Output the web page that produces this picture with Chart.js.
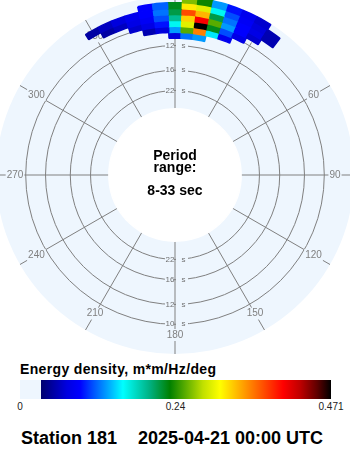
<!DOCTYPE html>
<html>
<head>
<meta charset="utf-8">
<script src="https://cdn.jsdelivr.net/npm/chart.js@4.4.1/dist/chart.umd.min.js"></script>
<style>
  body { margin: 0; width: 350px; height: 450px; overflow: hidden; background: #fff; position: relative;
         font-family: "Liberation Sans", Arial, sans-serif; color: #000; }
  #polar { position: absolute; left: -4px; top: -4px; }
  .center { position: absolute; left: 0; width: 350px; text-align: center; font-weight: bold; font-size: 14px; line-height: 14px; }
  #cbTitle { position: absolute; left: 20px; top: 362px; font-weight: bold; font-size: 14px; line-height: 14px; letter-spacing: 0.35px; }
  #cbar { position: absolute; left: 20px; top: 380px; width: 311px; height: 19px; }
  .cbTick { position: absolute; top: 402px; font-size: 10px; line-height: 10px; transform: translateX(-50%); color: #222; }
  .footer { position: absolute; top: 429px; font-weight: bold; font-size: 18px; line-height: 18px; }
</style>
</head>
<body>
<canvas id="polar" width="358" height="358"></canvas>
<div class="center" style="top:148px">Period</div>
<div class="center" style="top:160px">range:</div>
<div class="center" id="rangeText" style="top:183px"></div>
<div id="cbTitle">Energy density, m*m/Hz/deg</div>
<div id="cbar"></div>
<div id="cbTicks"></div>
<div class="footer" style="left:21px">Station 181</div>
<div class="footer" style="left:138px">2025-04-21 00:00 UTC</div>
<script>
// direction bins (deg clockwise from north, 5 deg wide) that hold energy
const directions = [-35, -30, -25, -20, -15, -10, -5, 0, 5, 10, 15, 20, 25, 30, 35];
// frequency band edges in Hz, outermost band first
const bandEdges = [0.125, 0.12, 0.115, 0.11, 0.105, 0.1, 0.095, 0.09];
// energy density (m*m/Hz/deg) per band, one value per direction bin
const band1 = [0, 0, 0, 0, 0, 0, 0, 0, 0.26, 0.23, 0.13, 0.095, 0.08, 0.065, 0];
const band2 = [0, 0, 0, 0, 0, 0.09, 0.115, 0.22, 0.31, 0.29, 0.16, 0.11, 0.085, 0.07, 0.055];
const band3 = [0, 0.05, 0.06, 0.07, 0.08, 0.09, 0.12, 0.21, 0.37, 0.33, 0.21, 0.12, 0.09, 0.075, 0.055];
const band4 = [0, 0, 0.05, 0.06, 0.075, 0.085, 0.11, 0.19, 0.32, 0.40, 0.25, 0.13, 0.09, 0.065, 0];
const band5 = [0, 0, 0, 0, 0.065, 0.075, 0.095, 0.16, 0.29, 0.471, 0.22, 0.11, 0.075, 0, 0];
const band6 = [0, 0, 0, 0, 0, 0.055, 0.07, 0.13, 0.25, 0.35, 0.15, 0.08, 0, 0, 0];
const band7 = [0, 0, 0, 0, 0, 0, 0, 0.07, 0.12, 0.13, 0, 0, 0, 0, 0];

const periodRange = [8, 33];            // sec
const periodTicks = [10, 12, 16, 22];   // ring labels, sec
const directionTicks = ['0', '30', '60', '90', '120', '150', '180', '210', '240', '270', '300', '330'];
const colorbarTicks = ['0', '0.24', '0.471'];
const maxEnergy = 0.471;

// frequency at the plot centre, leaves room for the white inner disk
const fMin = -0.0256;
const fMax = 1 / periodRange[0];
const fInner = 1 / periodRange[1];

const lightBlue = '#eef6fe';
const clear = 'rgba(0,0,0,0)';
const cmapStops = [
  [0.0675, [0, 0, 110]], [0.151, [0, 0, 224]], [0.193, [0, 0, 255]], [0.235, [0, 80, 255]],
  [0.289, [0, 176, 255]], [0.331, [0, 255, 255]], [0.418, [0, 176, 128]], [0.482, [0, 128, 0]],
  [0.588, [192, 224, 0]], [0.643, [255, 255, 0]], [0.73, [255, 144, 0]], [0.794, [255, 64, 0]],
  [0.846, [255, 0, 0]], [0.9, [192, 0, 0]], [0.955, [96, 0, 0]], [1.0, [0, 0, 0]]
];

function cmap(t) {
  for (let i = 1; i < cmapStops.length; i++) {
    const [t1, c1] = cmapStops[i];
    if (t <= t1) {
      const [t0, c0] = cmapStops[i - 1];
      const u = Math.max(0, (t - t0) / (t1 - t0));
      return 'rgb(' + c0.map((c, k) => Math.round(c + (c1[k] - c) * u)).join(',') + ')';
    }
  }
  return 'rgb(0,0,0)';
}

// 72 slices of 5 deg, slice k centred on k*5 deg
function colorsFor(band) {
  const out = [];
  for (let k = 0; k < 72; k++) {
    const d = k * 5 > 180 ? k * 5 - 360 : k * 5;
    const i = directions.indexOf(d);
    const v = i >= 0 ? band[i] : 0;
    out.push(v > 0 ? cmap(v / maxEnergy) : clear);
  }
  return out;
}

const bands = [band1, band2, band3, band4, band5, band6, band7];
const datasets = bands.map((band, j) => {
  const colors = colorsFor(band);
  return {
    data: new Array(72).fill(1),
    weight: bandEdges[j] - bandEdges[j + 1],
    backgroundColor: colors,
    borderColor: colors,
    borderWidth: 1.5,
    hoverOffset: 0
  };
});
// empty ring down to the longest period, then the white centre
datasets.push({ data: [1], weight: bandEdges[bandEdges.length - 1] - fInner,
  backgroundColor: clear, borderColor: clear, borderWidth: 1.5, hoverOffset: 0 });
datasets.push({ data: [1], weight: fInner - fMin,
  backgroundColor: '#fff', borderColor: '#fff', borderWidth: 1.5, hoverOffset: 0 });

// direction and period labels, drawn under the energy cells
const polarLabels = {
  id: 'polarLabels',
  beforeDatasetsDraw(chart) {
    const r = chart.scales.r;
    const ctx = chart.ctx;
    ctx.save();
    ctx.textBaseline = 'middle';
    ctx.textAlign = 'center';
    ctx.font = '10px "Liberation Sans", Arial, sans-serif';
    directionTicks.forEach((label, i) => {
      const p = r.getPointPosition(i, r.drawingArea - 19);
      const w = ctx.measureText(label).width;
      ctx.fillStyle = lightBlue;
      ctx.fillRect(p.x - w / 2 - 1, p.y - 6, w + 2, 12);
      ctx.fillStyle = '#808080';
      ctx.fillText(label, p.x, p.y);
    });
    ctx.font = '8px "Liberation Sans", Arial, sans-serif';
    periodTicks.forEach(t => {
      const d = r.getDistanceFromCenterForValue(1 / t);
      [r.yCenter - d, r.yCenter + d].forEach(y => {
        ctx.fillStyle = lightBlue;
        ctx.fillRect(r.xCenter - 10, y - 4, 9, 8);
        ctx.fillRect(r.xCenter + 1, y - 4, 12, 8);
        ctx.fillStyle = '#707070';
        ctx.textAlign = 'right';
        ctx.fillText(String(t), r.xCenter - 0.5, y);
        ctx.textAlign = 'left';
        ctx.fillText('s', r.xCenter + 6.5, y);
      });
    });
    ctx.restore();
  }
};

new Chart(document.getElementById('polar'), {
  type: 'doughnut',
  data: { labels: directionTicks, datasets: datasets },
  options: {
    responsive: false,
    animation: false,
    events: [],
    cutout: 0,
    rotation: -2.5,
    plugins: { legend: { display: false }, tooltip: { enabled: false } },
    scales: {
      r: {
        type: 'radialLinear',
        min: fMin,
        max: fMax,
        backgroundColor: lightBlue,
        grid: { circular: true, color: '#808080', lineWidth: 1 },
        angleLines: { display: true, color: '#808080', lineWidth: 1 },
        pointLabels: { display: false },
        ticks: { display: false },
        afterBuildTicks: s => { s.ticks = [fMin].concat(periodTicks.map(p => 1 / p)).map(v => ({ value: v })); }
      }
    }
  },
  plugins: [polarLabels]
});

document.getElementById('rangeText').textContent = periodRange[0] + '-' + periodRange[1] + ' sec';

// colour bar
const grad = ['linear-gradient(to right', lightBlue + ' 0%', lightBlue + ' 6.75%']
  .concat(cmapStops.map(([t, c]) => 'rgb(' + c.join(',') + ') ' + (t * 100) + '%'));
document.getElementById('cbar').style.background = grad.join(', ') + ')';
const tickBox = document.getElementById('cbTicks');
colorbarTicks.forEach((t, i) => {
  const el = document.createElement('div');
  el.className = 'cbTick';
  el.style.left = (20 + 311 * i / (colorbarTicks.length - 1)) + 'px';
  el.textContent = t;
  tickBox.appendChild(el);
});
</script>
</body>
</html>
